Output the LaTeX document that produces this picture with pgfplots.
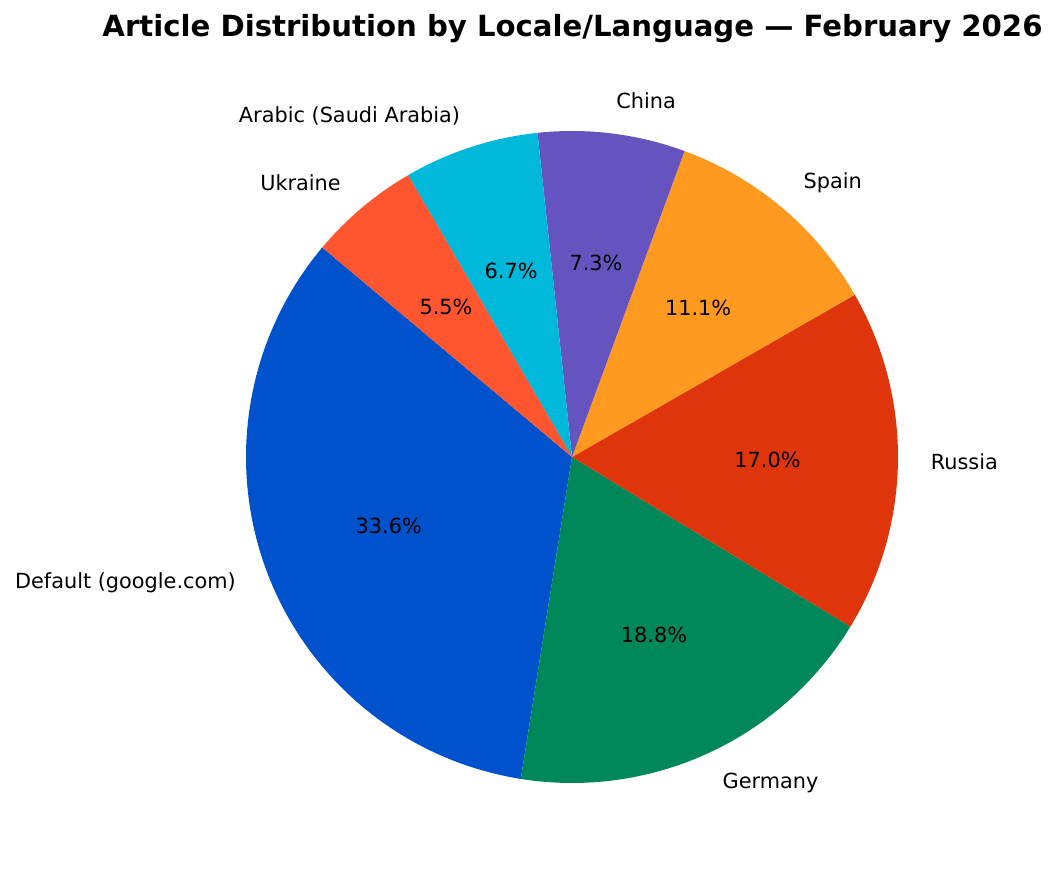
\documentclass[border=0pt]{standalone}
\usepackage{pgfplots}
\pgfplotsset{compat=1.18}
\usepackage{fontspec}
\setmainfont{DejaVu Sans}

\definecolor{cDefault}{HTML}{0052CC}
\definecolor{cGermany}{HTML}{00875A}
\definecolor{cRussia}{HTML}{DE350B}
\definecolor{cSpain}{HTML}{FF991F}
\definecolor{cChina}{HTML}{6554C0}
\definecolor{cArabic}{HTML}{00B8D9}
\definecolor{cUkraine}{HTML}{FF5630}

% pie geometry in axis units (1 unit = 0.72pt)
\def\cx{572}
\def\cy{423}
\def\rad{326}
\xdef\cum{140}

% \slice{percent}{colour}{label}
\newcommand\slice[3]{%
  \pgfmathsetmacro\sa{\cum}%
  \pgfmathsetmacro\sb{\cum+3.6*#1}%
  \pgfmathsetmacro\md{(\sa+\sb)/2}%
  \pgfmathsetmacro\lx{\cx+1.1*\rad*cos(\md)}%
  \pgfmathsetmacro\ly{\cy+1.1*\rad*sin(\md)}%
  \pgfmathsetmacro\px{\cx+0.6*\rad*cos(\md)}%
  \pgfmathsetmacro\py{\cy+0.6*\rad*sin(\md)}%
  \pgfmathparse{cos(\md)>0 ? 1 : 0}%
  \ifnum\pgfmathresult=1 \def\anc{west}\else\def\anc{east}\fi
  \edef\temp{%
    \noexpand\addplot[fill=#2, draw=none, domain=\sa:\sb, samples=90]
      ({\cx+\rad*cos(x)}, {\cy+\rad*sin(x)}) -- (axis cs:\cx,\cy) -- cycle;
    \noexpand\node[anchor=\anc, inner sep=0pt, font=\noexpand\labelfont] at (axis cs:\lx,\ly) {#3};
    \noexpand\node[font=\noexpand\pctfont] at (axis cs:\px,\py) {#1\noexpand\%};
  }%
  \temp
  \xdef\cum{\sb}%
}

\newcommand\labelfont{\fontsize{15}{18}\selectfont}
\newcommand\pctfont{\fontsize{15}{18}\selectfont}

\begin{document}
\begin{tikzpicture}
  \begin{axis}[
      at={(0,0)}, anchor=south west,
      width=760.32pt, height=633.6pt,
      scale only axis,
      xmin=0, xmax=1056, ymin=0, ymax=880,
      hide axis,
      clip=false,
    ]
    \slice{33.6}{cDefault}{Default (google.com)}
    \slice{18.8}{cGermany}{Germany}
    \slice{17.0}{cRussia}{Russia}
    \slice{11.1}{cSpain}{Spain}
    \slice{7.3}{cChina}{China}
    \slice{6.7}{cArabic}{Arabic (Saudi Arabia)}
    \slice{5.5}{cUkraine}{Ukraine}
    \node[font=\bfseries\fontsize{21}{25}\selectfont] at (axis cs:572.5,851)
      {Article Distribution by Locale/Language — February 2026};
  \end{axis}
  \pgfresetboundingbox
  \useasboundingbox (0,0) rectangle (760.32pt,633.6pt);
\end{tikzpicture}
\end{document}
